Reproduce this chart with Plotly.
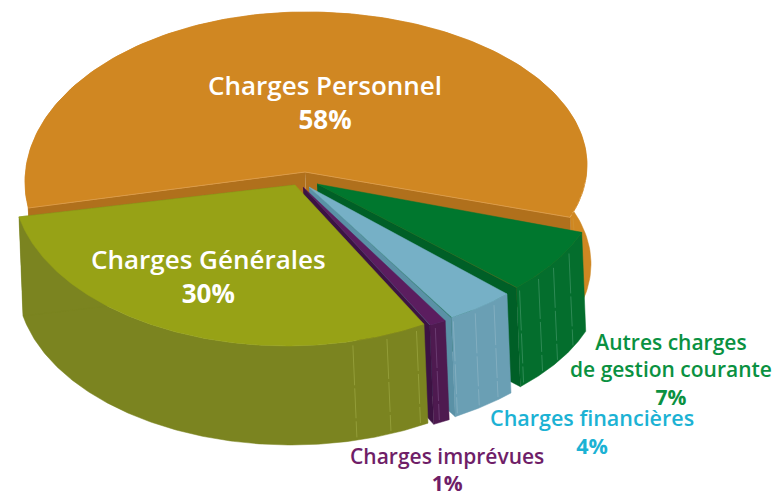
import numpy as np
import plotly.graph_objects as go

categories = ["Charges Personnel", "Charges Générales", "Charges imprévues", "Charges financières", "Autres charges<br>de gestion courante"]
percents = [58, 30, 1, 4, 7]

# drawing geometry for each slice, in the order of the categories
apex = [(305, 172), (295, 185), (303, 187), (309, 187), (317, 184)]
centre = [(306, 165), (287, 183), (303, 187), (309, 184), (317, 182)]
radii = [(281, 153), (274, 163), (281, 155), (281, 155), (281, 150)]
back_left = (182, 170)  # the far-left half of the large slice bulges lower: centre y, radius y
start_deg = [-20, 192, -63.2, -59.6, -44.8]
top_col = ["#D08722", "#97A216", "#5B1D5F", "#76B0C6", "#00772E"]
side_col = ["#CF8722", "#7B8420", "#4E1A50", "#6A9FB4", "#046E2D"]
wall_col = ["#B0701C", "#7B8420", "#3C1343", "#5A91A6", "#005F27"]
streak_col = ["#DDA050", "#939D38", "#6A3A70", "#82AEC0", "#2E8A55"]
streak_fracs = [[], [0.853, 0.924, 0.983], [0.3], [0.02, 0.39, 0.73], [0.03, 0.26, 0.47, 0.72]]
draw_order = [0, 4, 3, 2, 1]
depth = (4, 99)

fig = go.Figure()


def poly(xs, ys, color):
    fig.add_trace(go.Scatter(x=xs, y=ys, mode="lines", fill="toself", fillcolor=color,
                             line=dict(color=color, width=0.5), hoverinfo="skip", showlegend=False))


def seg(xs, ys, color, width=1.0, dash="solid"):
    fig.add_trace(go.Scatter(x=xs, y=ys, mode="lines", line=dict(color=color, width=width, dash=dash),
                             hoverinfo="skip", showlegend=False))


for i in draw_order:
    sweep = percents[i] * 3.6
    deg = np.linspace(start_deg[i], start_deg[i] + sweep, 160)
    t = np.radians(deg)
    cx, cy = centre[i]
    rx, ry = radii[i]
    ax, ay = apex[i]
    ox = cx + rx * np.cos(t)
    oy = cy - ry * np.sin(t)
    if i == 0:
        left = deg > 90
        oy[left] = back_left[0] - back_left[1] * np.sin(t[left])
    dx, dy = depth
    # outer side
    poly(np.r_[ox, (ox + dx)[::-1]], np.r_[oy, (oy + dy)[::-1]], side_col[i])
    # inner walls, facing the viewer
    for k in ([0, -1] if i == 0 else [0]):
        k_x, k_y = ox[k], oy[k]
        poly([ax, k_x, k_x + dx, ax + dx], [ay, k_y, k_y + dy, ay + dy], wall_col[i])
    # streaks on side
    for f in streak_fracs[i]:
        j = int(f * (len(t) - 1))
        seg([ox[j] + 1, ox[j] + 1 + dx], [oy[j] + 4, oy[j] + dy - 3], streak_col[i], 1.0, "40px,3px,30px,3px")
    # top face
    poly(np.r_[ax, ox, ax], np.r_[ay, oy, ay], top_col[i])
    if i == 0:
        seg([ox[0], ax, ox[-1]], [oy[0], ay, oy[-1]], streak_col[0], 0.8)
        n = 12
        seg(ox[:n], oy[:n], "#E2AC62", 0.8, "3px,2px")
        seg([ox[0] + 3, ox[0] + 4], [oy[0] + 1, oy[0] + 14], "#D0902F", 1.0)

notes = [
    (325, 102, f"{categories[0]}<br><b>{percents[0]}%</b>", "white", 26),
    (208, 276, f"{categories[1]}<br><b>{percents[1]}%</b>", "white", 26),
    (447, 469, f"{categories[2]}<br><b>{percents[2]}%</b>", "#6F1E68", 21),
    (592, 431, f"{categories[3]}<br><b>{percents[3]}%</b>", "#1CB2D4", 21.5),
    (671, 369, f"{categories[4]}<br><b>{percents[4]}%</b>", "#0A9141", 21),
]
for x, y, txt, col, size in notes:
    fig.add_annotation(x=x, y=y, text=txt, showarrow=False, xanchor="center", yanchor="middle", align="center",
                       font=dict(family="Open Sans", size=size, color=col, weight=600))

fig.update_layout(width=779, height=491, margin=dict(l=0, r=0, t=0, b=0), paper_bgcolor="white",
                  plot_bgcolor="white", showlegend=False,
                  xaxis=dict(range=[0, 779], visible=False, fixedrange=True),
                  yaxis=dict(range=[491, 0], visible=False, fixedrange=True))
fig.write_html("out.html", config=dict(displayModeBar=False),
               post_script="document.body.style.margin='0';document.body.style.overflow='hidden';")
